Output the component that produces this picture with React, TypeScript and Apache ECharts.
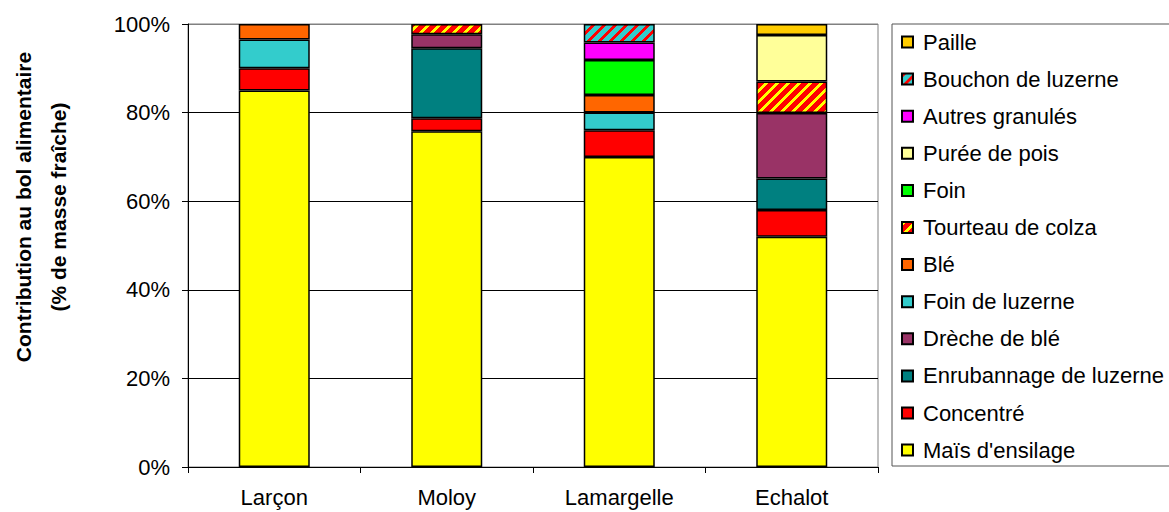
import React, { useEffect, useRef } from "react";
import * as echarts from "echarts";

const categories = ["Larçon", "Moloy", "Lamargelle", "Echalot"];
const yTicks = [0, 20, 40, 60, 80, 100];

const maisEnsilage = [85, 75.8, 70, 52];
const concentre = [5, 2.9, 6, 6];
const enrubannage = [null, 15.8, null, 7.1];
const dreche = [null, 3.2, null, 14.8];
const foinLuzerne = [6.5, null, 4, null];
const ble = [3.5, null, 4, null];
const tourteau = [null, 2.3, null, 7.1];
const foin = [null, null, 7.9, null];
const pureePois = [null, null, null, 10.5];
const autresGranules = [null, null, 3.9, null];
const bouchon = [null, null, 4.2, null];
const paille = [null, null, null, 2.5];

const FONT = '"Liberation Sans", Arial, sans-serif';

function stripePattern(bg: string, fg: string, period: number, width: number) {
  const c = document.createElement("canvas");
  c.width = period;
  c.height = period;
  const ctx = c.getContext("2d")!;
  const img = ctx.createImageData(period, period);
  const parse = (h: string) => [parseInt(h.slice(1, 3), 16), parseInt(h.slice(3, 5), 16), parseInt(h.slice(5, 7), 16)];
  const b = parse(bg);
  const f = parse(fg);
  for (let y = 0; y < period; y++) {
    for (let x = 0; x < period; x++) {
      const col = (x + y) % period < width ? f : b;
      const i = (y * period + x) * 4;
      img.data[i] = col[0];
      img.data[i + 1] = col[1];
      img.data[i + 2] = col[2];
      img.data[i + 3] = 255;
    }
  }
  ctx.putImageData(img, 0, 0);
  return { image: c.toDataURL(), repeat: "repeat", imageWidth: period, imageHeight: period } as any;
}

export default function App() {
  const ref = useRef<HTMLDivElement>(null);
  useEffect(() => {
    if (!ref.current) return;
    const chart = echarts.init(ref.current, null, { renderer: "svg" });
    const tourteauPat = stripePattern("#FF0000", "#FFFF00", 11, 4);
    const bouchonPat = stripePattern("#33CCCC", "#FF0000", 11, 4);

    const defs: [string, any[], any][] = [
      ["Maïs d'ensilage", maisEnsilage, "#FFFF00"],
      ["Concentré", concentre, "#FF0000"],
      ["Enrubannage de luzerne", enrubannage, "#008080"],
      ["Drèche de blé", dreche, "#993366"],
      ["Foin de luzerne", foinLuzerne, "#33CCCC"],
      ["Blé", ble, "#FF6600"],
      ["Tourteau de colza", tourteau, tourteauPat],
      ["Foin", foin, "#00FF00"],
      ["Purée de pois", pureePois, "#FFFF99"],
      ["Autres granulés", autresGranules, "#FF00FF"],
      ["Bouchon de luzerne", bouchon, bouchonPat],
      ["Paille", paille, "#FFCC00"],
    ];

    const series = defs.map(([name, data, color]) => ({
      name,
      type: "bar",
      stack: "total",
      data,
      barWidth: 71,
      itemStyle: { color, borderColor: "#000", borderWidth: 1.5 },
    }));

    chart.setOption({
      animation: false,
      backgroundColor: "#fff",
      textStyle: { fontFamily: FONT },
      grid: {
        left: 188,
        right: 291,
        top: 24,
        bottom: 45,
        show: true,
        borderColor: "#808080",
        borderWidth: 1,
        backgroundColor: "transparent",
      },
      xAxis: {
        type: "category",
        data: categories,
        axisLine: { lineStyle: { color: "#000", width: 1 } },
        axisTick: { show: true, length: 6, lineStyle: { color: "#000" } },
        axisLabel: { fontSize: 22, color: "#000", margin: 19, fontFamily: FONT },
      },
      yAxis: {
        type: "value",
        min: yTicks[0],
        max: yTicks[yTicks.length - 1],
        interval: 20,
        axisLine: { show: true, lineStyle: { color: "#000", width: 1 } },
        axisTick: { show: true, length: 6, lineStyle: { color: "#000" } },
        axisLabel: { fontSize: 22, color: "#000", margin: 18, formatter: "{value}%", fontFamily: FONT },
        splitLine: {
          show: true,
          lineStyle: { color: ["#000", "#000", "#000", "#000", "#000", "#808080"], width: 1 },
        },
      },
      legend: {
        orient: "vertical",
        left: 901,
        top: 31,
        padding: 0,
        itemWidth: 11,
        itemHeight: 11,
        itemGap: 15.1,
        icon: "rect",
        data: defs.map((d) => d[0]).reverse(),
        textStyle: { fontSize: 22, lineHeight: 22, color: "#000", fontFamily: FONT, padding: [0, 0, 0, 5] },
      },
      graphic: [
        {
          type: "rect",
          shape: { x: 892, y: 24, width: 300, height: 442 },
          style: { fill: "none", stroke: "#555", lineWidth: 1 },
          silent: true,
        },
        {
          type: "text",
          x: 23,
          y: 207,
          rotation: Math.PI / 2,
          style: {
            text: "Contribution au bol alimentaire",
            font: `bold 21px ${FONT}`,
            fill: "#000",
            textAlign: "center",
            textVerticalAlign: "middle",
            verticalAlign: "middle",
          },
        },
        {
          type: "text",
          x: 58,
          y: 207,
          rotation: Math.PI / 2,
          style: {
            text: "(% de masse fraîche)",
            font: `bold 21px ${FONT}`,
            fill: "#000",
            textAlign: "center",
            textVerticalAlign: "middle",
            verticalAlign: "middle",
          },
        },
      ],
      series,
    });
    return () => chart.dispose();
  }, []);
  return <div ref={ref} style={{ position: "fixed", left: 0, top: 0, width: 1169, height: 512 }} />;
}
